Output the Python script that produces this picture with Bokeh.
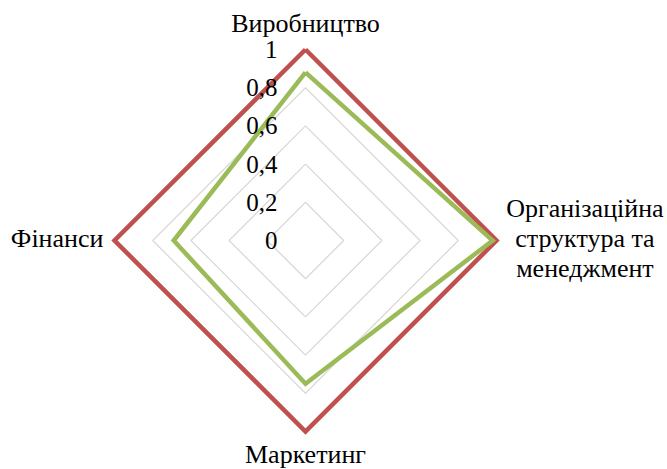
import numpy as np
from bokeh.plotting import figure
from bokeh.models import Range1d
from bokeh.core.properties import value
from bokeh.embed import file_html
from bokeh.resources import INLINE

categories = ["Виробництво", "Організаційна структура та менеджмент", "Маркетинг", "Фінанси"]
series_red = [1.0, 1.0, 1.0, 1.0]
series_green = [0.88, 0.98, 0.75, 0.69]
ring_values = [0.2, 0.4, 0.6, 0.8, 1.0]
tick_values = [0, 0.2, 0.4, 0.6, 0.8, 1.0]
tick_labels = ["0", "0,2", "0,4", "0,6", "0,8", "1"]

R = 191.0
W, H = 667, 469
cx, cy = 305.0, 240.0  # center in frame pixels from left/top

p = figure(width=W, height=H, output_backend="svg", toolbar_location=None,
           x_range=Range1d(-cx / R, (W - cx) / R), y_range=Range1d(-(H - cy) / R, cy / R),
           min_border=0)
p.axis.visible = False
p.xgrid.visible = False
p.ygrid.visible = False
p.outline_line_color = None
p.background_fill_color = "white"

angles = np.pi / 2 - np.arange(4) * 2 * np.pi / 4

def poly(vals):
    xs = [v * np.cos(a) for v, a in zip(vals, angles)]
    ys = [v * np.sin(a) for v, a in zip(vals, angles)]
    return xs + [xs[0]], ys + [ys[0]]

for rv in ring_values[:-1]:
    xs, ys = poly([rv] * 4)
    p.line(xs, ys, line_color="#D9D9D9", line_width=1.3)

xs, ys = poly(series_red)
p.line(xs, ys, line_color="#C0504D", line_width=4.5, line_join="miter")
xs, ys = poly(series_green)
p.line(xs, ys, line_color="#9BBB59", line_width=4.5, line_join="miter")

font = value("Liberation Serif")
p.text(x=[-0.147] * len(tick_values), y=tick_values, text=tick_labels,
       text_font=font, text_font_size="25px", text_align="right",
       text_baseline="middle", text_color="#000000")

# category labels
p.text(x=[0], y=[1.136], text=[categories[0]], text_font=font, text_font_size="26px",
       text_align="center", text_baseline="middle", text_color="#000000")
p.text(x=[0], y=[-1.12], text=[categories[2]], text_font=font, text_font_size="26px",
       text_align="center", text_baseline="middle", text_color="#000000")
p.text(x=[-1.058], y=[0.01], text=[categories[3]], text_font=font, text_font_size="26px",
       text_align="right", text_baseline="middle", text_color="#000000")
right_lines = ["Організаційна", "структура та", "менеджмент"]
p.text(x=[1.463] * 3, y=[0.168, 0.01, -0.147], text=right_lines, text_font=font,
       text_font_size="26px", text_align="center", text_baseline="middle", text_color="#000000")

open("out.html", "w").write(file_html(p, INLINE))
